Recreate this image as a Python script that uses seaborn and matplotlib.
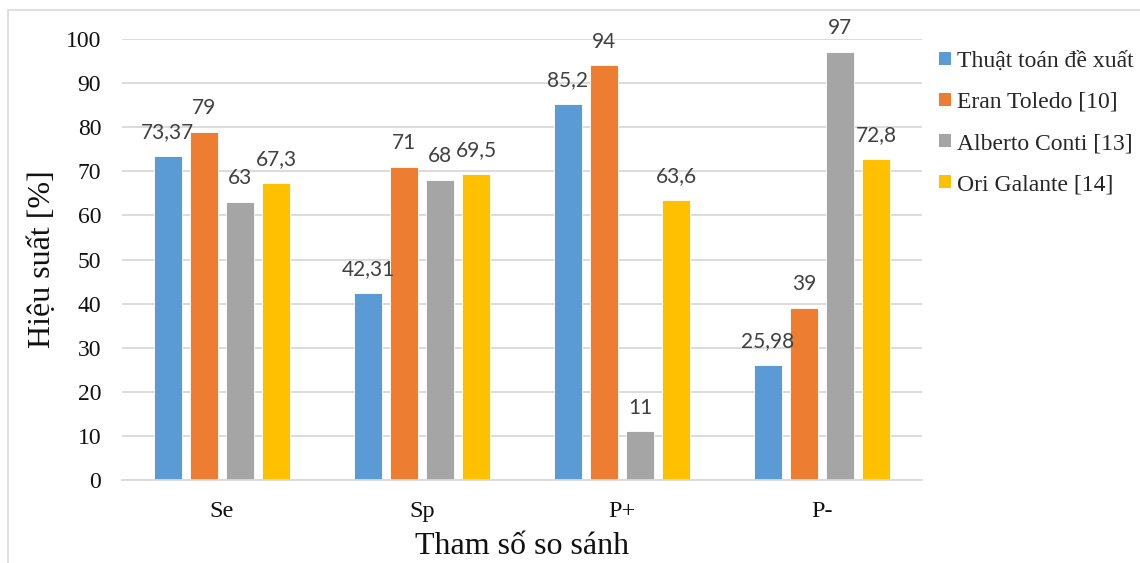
import matplotlib
matplotlib.use("Agg")
import matplotlib.pyplot as plt
from matplotlib.patches import Rectangle
import pandas as pd
import seaborn as sns

# Comparison metrics and competing methods
categories = ["Se", "Sp", "P+", "P-"]
methods = ["Thuật toán đề xuất", "Eran Toledo [10]", "Alberto Conti [13]", "Ori Galante [14]"]
proposed = [73.37, 42.31, 85.2, 25.98]
toledo = [79, 71, 94, 39]
conti = [63, 68, 11, 97]
galante = [67.3, 69.5, 63.6, 72.8]
y_ticks = [0, 10, 20, 30, 40, 50, 60, 70, 80, 90, 100]

colors = ["#5B9BD5", "#ED7D31", "#A5A5A5", "#FFC000"]
serif = "Liberation Serif"
label_font = "Lato"

series = [proposed, toledo, conti, galante]
rows = []
for m, vals in zip(methods, series):
    for c, v in zip(categories, vals):
        rows.append({"cat": c, "method": m, "value": v})
df = pd.DataFrame(rows)

sns.set_theme(style="white")
plt.rcParams["font.family"] = [serif, "DejaVu Sans"]

fig = plt.figure(figsize=(11.40, 5.63), dpi=100)
ax = fig.add_axes([122 / 1140, 1 - 480 / 563, 800 / 1140, 441 / 563])

sns.barplot(data=df, x="cat", y="value", hue="method", order=categories,
            hue_order=methods, palette=colors, width=0.72, gap=0.2,
            saturation=1, errorbar=None, ax=ax, legend=True,
            edgecolor="white", linewidth=0.6)

# value labels with decimal commas
for cont, vals in zip(ax.containers, series):
    labels = [f"{v:g}".replace(".", ",") for v in vals]
    ax.bar_label(cont, labels=labels, padding=10, fontsize=15,
                 color="#404040", family=label_font)

ax.set_ylim(0, 100)
ax.set_xlim(-0.5, 3.5)
ax.set_yticks(y_ticks)
ax.grid(axis="y", color="#D9D9D9", linewidth=1.3)
ax.set_axisbelow(True)
for s in ["left", "right", "top"]:
    ax.spines[s].set_visible(False)
ax.spines["bottom"].set_color("#D9D9D9")
ax.spines["bottom"].set_linewidth(1.3)
ax.tick_params(axis="y", length=0, pad=15, labelsize=17, labelcolor="#111111")
ax.tick_params(axis="x", length=0, pad=15, labelsize=17.5, labelcolor="#111111")
for t in ax.get_xticklabels() + ax.get_yticklabels():
    t.set_family(serif)

ax.set_xlabel("Tham số so sánh", fontsize=23, family=serif, color="#111111", labelpad=7)
ax.set_ylabel("Hiệu suất [%]", fontsize=23, family=serif, color="#111111", labelpad=6)

handles, labs = ax.get_legend_handles_labels()
leg = ax.legend(handles, labs, loc="center left",
                bbox_to_anchor=(939 / 1140, 1 - 123 / 563),
                bbox_transform=fig.transFigure, frameon=False,
                prop={"family": serif, "size": 17},
                handlelength=0.5, handleheight=0.5, handletextpad=0.25,
                labelspacing=0.85, borderaxespad=0, borderpad=0)
for h in leg.legend_handles:
    h.set_edgecolor("none")

# outer chart frame
fig.patches.append(Rectangle((8 / 1140, -0.2), 1.2, 1.2 - 10 / 563,
                             transform=fig.transFigure, fill=False,
                             edgecolor="#D9D9D9", linewidth=1.2))

fig.savefig("out.png", dpi=100, facecolor="white")
